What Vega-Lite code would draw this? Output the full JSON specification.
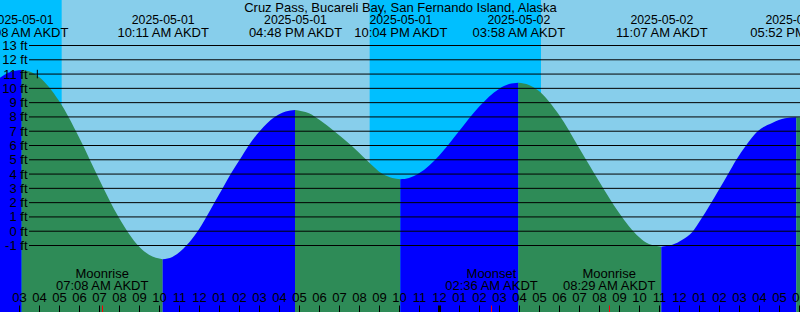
{
  "$schema": "https://vega.github.io/schema/vega-lite/v6.json",
  "width": 800,
  "height": 312,
  "padding": 0,
  "autosize": "none",
  "background": "#87CEEB",
  "config": {
    "view": {"stroke": null},
    "font": "Liberation Sans",
    "axis": {
      "labelFont": "Liberation Sans",
      "labelFontSize": 13,
      "labelColor": "#000000",
      "titleFont": "Liberation Sans",
      "titleColor": "#000000",
      "domain": false,
      "grid": false,
      "labelOverlap": false,
      "labelFlush": false,
      "labelBound": false
    }
  },
  "datasets": {
    "night": [
      {"start": -60, "end": 308},
      {"start": 1232, "end": 1746}
    ],
    "tide": [
      {"m": 110, "h": 10.53, "seg": "A", "dir": "rise"},
      {"m": 150, "h": 11.11, "seg": "A", "dir": "rise"},
      {"m": 188, "h": 11.29, "seg": "A", "dir": "rise"},
      {"m": 188, "h": 11.29, "seg": "B", "dir": "fall"},
      {"m": 210, "h": 11.2, "seg": "B", "dir": "fall"},
      {"m": 240, "h": 10.8, "seg": "B", "dir": "fall"},
      {"m": 300, "h": 9.13, "seg": "B", "dir": "fall"},
      {"m": 360, "h": 6.58, "seg": "B", "dir": "fall"},
      {"m": 420, "h": 3.66, "seg": "B", "dir": "fall"},
      {"m": 480, "h": 0.94, "seg": "B", "dir": "fall"},
      {"m": 540, "h": -1.07, "seg": "B", "dir": "fall"},
      {"m": 570, "h": -1.65, "seg": "B", "dir": "fall"},
      {"m": 611, "h": -1.96, "seg": "B", "dir": "fall"},
      {"m": 611, "h": -1.96, "seg": "C", "dir": "rise"},
      {"m": 640, "h": -1.8, "seg": "C", "dir": "rise"},
      {"m": 682, "h": -1.0, "seg": "C", "dir": "rise"},
      {"m": 716, "h": 0.0, "seg": "C", "dir": "rise"},
      {"m": 742, "h": 1.0, "seg": "C", "dir": "rise"},
      {"m": 766, "h": 2.0, "seg": "C", "dir": "rise"},
      {"m": 791, "h": 3.0, "seg": "C", "dir": "rise"},
      {"m": 815, "h": 4.0, "seg": "C", "dir": "rise"},
      {"m": 842, "h": 5.0, "seg": "C", "dir": "rise"},
      {"m": 869, "h": 6.0, "seg": "C", "dir": "rise"},
      {"m": 902, "h": 7.0, "seg": "C", "dir": "rise"},
      {"m": 947, "h": 8.0, "seg": "C", "dir": "rise"},
      {"m": 980, "h": 8.38, "seg": "C", "dir": "rise"},
      {"m": 1008, "h": 8.49, "seg": "C", "dir": "rise"},
      {"m": 1008, "h": 8.49, "seg": "D", "dir": "fall"},
      {"m": 1050, "h": 8.25, "seg": "D", "dir": "fall"},
      {"m": 1081, "h": 7.8, "seg": "D", "dir": "fall"},
      {"m": 1126, "h": 7.0, "seg": "D", "dir": "fall"},
      {"m": 1177, "h": 6.0, "seg": "D", "dir": "fall"},
      {"m": 1222, "h": 5.0, "seg": "D", "dir": "fall"},
      {"m": 1271, "h": 4.0, "seg": "D", "dir": "fall"},
      {"m": 1300, "h": 3.73, "seg": "D", "dir": "fall"},
      {"m": 1324, "h": 3.64, "seg": "D", "dir": "fall"},
      {"m": 1324, "h": 3.64, "seg": "E", "dir": "rise"},
      {"m": 1350, "h": 3.73, "seg": "E", "dir": "rise"},
      {"m": 1380, "h": 4.05, "seg": "E", "dir": "rise"},
      {"m": 1440, "h": 5.28, "seg": "E", "dir": "rise"},
      {"m": 1500, "h": 6.99, "seg": "E", "dir": "rise"},
      {"m": 1560, "h": 8.71, "seg": "E", "dir": "rise"},
      {"m": 1620, "h": 9.96, "seg": "E", "dir": "rise"},
      {"m": 1650, "h": 10.3, "seg": "E", "dir": "rise"},
      {"m": 1678, "h": 10.4, "seg": "E", "dir": "rise"},
      {"m": 1678, "h": 10.4, "seg": "F", "dir": "fall"},
      {"m": 1710, "h": 10.24, "seg": "F", "dir": "fall"},
      {"m": 1740, "h": 9.82, "seg": "F", "dir": "fall"},
      {"m": 1800, "h": 8.15, "seg": "F", "dir": "fall"},
      {"m": 1860, "h": 5.85, "seg": "F", "dir": "fall"},
      {"m": 1920, "h": 3.5, "seg": "F", "dir": "fall"},
      {"m": 1980, "h": 1.3, "seg": "F", "dir": "fall"},
      {"m": 2040, "h": -0.4, "seg": "F", "dir": "fall"},
      {"m": 2070, "h": -0.9, "seg": "F", "dir": "fall"},
      {"m": 2107, "h": -1.08, "seg": "F", "dir": "fall"},
      {"m": 2107, "h": -1.08, "seg": "G", "dir": "rise"},
      {"m": 2140, "h": -0.95, "seg": "G", "dir": "rise"},
      {"m": 2170, "h": -0.6, "seg": "G", "dir": "rise"},
      {"m": 2200, "h": -0.05, "seg": "G", "dir": "rise"},
      {"m": 2225, "h": 0.8, "seg": "G", "dir": "rise"},
      {"m": 2253, "h": 1.85, "seg": "G", "dir": "rise"},
      {"m": 2281, "h": 2.95, "seg": "G", "dir": "rise"},
      {"m": 2306, "h": 3.95, "seg": "G", "dir": "rise"},
      {"m": 2332, "h": 5.0, "seg": "G", "dir": "rise"},
      {"m": 2361, "h": 6.0, "seg": "G", "dir": "rise"},
      {"m": 2396, "h": 7.0, "seg": "G", "dir": "rise"},
      {"m": 2441, "h": 7.6, "seg": "G", "dir": "rise"},
      {"m": 2478, "h": 7.9, "seg": "G", "dir": "rise"},
      {"m": 2512, "h": 7.98, "seg": "G", "dir": "rise"},
      {"m": 2512, "h": 7.98, "seg": "H", "dir": "fall"},
      {"m": 2530, "h": 7.95, "seg": "H", "dir": "fall"}
    ],
    "levels": [
      {"level": -1}, {"level": 0}, {"level": 1}, {"level": 2}, {"level": 3},
      {"level": 4}, {"level": 5}, {"level": 6}, {"level": 7}, {"level": 8},
      {"level": 9}, {"level": 10}, {"level": 11}, {"level": 12}, {"level": 13}
    ],
    "marker": [
      {"m": 235, "lo": 10.7, "hi": 11.3}
    ]
  },
  "resolve": {"axis": {"x": "independent", "y": "independent"}},
  "layer": [
    {
      "data": {"name": "night"},
      "mark": {"type": "rect", "color": "#00BFFF"},
      "encoding": {
        "x": {
          "field": "start", "type": "quantitative",
          "scale": {"domain": [123, 2523], "nice": false, "zero": false},
          "axis": {
            "orient": "top",
            "offset": -23.3,
            "zindex": 1,
            "ticks": false,
            "labelPadding": 0,
            "labelBaseline": "alphabetic",
            "labelFontSize": 12.3,
            "values": [188, 611, 1008, 1324, 1678, 2107, 2512],
            "labelExpr": "timeFormat(datetime(2025, 4, 1, 0, datum.value), '%Y-%m-%d')",
            "title": "Cruz Pass, Bucareli Bay, San Fernando Island, Alaska",
            "titleX": 400,
            "titleY": -11.6,
            "titleAlign": "center",
            "titleBaseline": "alphabetic",
            "titleFontSize": 13,
            "titleFontWeight": "normal"
          }
        },
        "x2": {"field": "end"}
      }
    },
    {
      "data": {"name": "tide"},
      "mark": {"type": "area", "interpolate": "monotone"},
      "encoding": {
        "x": {
          "field": "m", "type": "quantitative",
          "scale": {"domain": [123, 2523], "nice": false, "zero": false},
          "axis": {
            "orient": "top",
            "offset": -312,
            "zindex": 1,
            "ticks": true,
            "tickSize": 7,
            "tickColor": "#000000",
            "tickWidth": {"condition": {"test": "datum.value % 1440 === 0", "value": 3}, "value": 1},
            "values": [120, 180, 240, 300, 360, 420, 480, 540, 600, 660, 720, 780, 840, 900, 960, 1020, 1080, 1140, 1200, 1260, 1320, 1380, 1440, 1500, 1560, 1620, 1680, 1740, 1800, 1860, 1920, 1980, 2040, 2100, 2160, 2220, 2280, 2340, 2400, 2460, 2520],
            "labelPadding": 3.3,
            "labelBaseline": "alphabetic",
            "labelExpr": "timeFormat(datetime(2025, 4, 1, 0, datum.value), '%I')",
            "title": null
          }
        },
        "y": {
          "field": "h", "type": "quantitative",
          "scale": {"domain": [-5.655, 16.185], "nice": false, "zero": false},
          "axis": null
        },
        "y2": {"datum": -5.655},
        "color": {
          "field": "dir", "type": "nominal",
          "scale": {"domain": ["rise", "fall"], "range": ["#0000FF", "#2E8B57"]},
          "legend": null
        },
        "detail": {"field": "seg"}
      }
    },
    {
      "data": {"name": "levels"},
      "mark": {"type": "rule", "color": "#000000", "strokeWidth": 1},
      "encoding": {
        "x": {
          "datum": 210, "type": "quantitative",
          "scale": {"domain": [123, 2523], "nice": false, "zero": false},
          "axis": {
            "orient": "top",
            "offset": -36,
            "zindex": 1,
            "ticks": false,
            "labelPadding": 0,
            "labelBaseline": "alphabetic",
            "values": [188, 611, 1008, 1324, 1678, 2107, 2512],
            "labelExpr": "timeFormat(datetime(2025, 4, 1, 0, datum.value), '%I:%M %p') + ' AKDT'",
            "title": null
          }
        },
        "x2": {"datum": 2600},
        "y": {
          "field": "level", "type": "quantitative",
          "scale": {"domain": [-5.655, 16.185], "nice": false, "zero": false},
          "axis": {
            "orient": "left",
            "offset": -28,
            "zindex": 1,
            "ticks": false,
            "labelPadding": 1,
            "labelBaseline": "middle",
            "values": [-1, 0, 1, 2, 3, 4, 5, 6, 7, 8, 9, 10, 11, 12, 13],
            "labelExpr": "datum.value + ' ft'",
            "title": null
          }
        }
      }
    },
    {
      "data": {"name": "marker"},
      "mark": {"type": "rule", "color": "#000000", "strokeWidth": 1},
      "encoding": {
        "x": {
          "field": "m", "type": "quantitative",
          "scale": {"domain": [123, 2523], "nice": false, "zero": false},
          "axis": {
            "orient": "top",
            "offset": -312,
            "zindex": 1,
            "ticks": true,
            "tickSize": 7,
            "tickColor": "#FF0000",
            "tickWidth": 1,
            "labelPadding": 27.3,
            "labelBaseline": "alphabetic",
            "labelLineHeight": 12.3,
            "values": [114, 428, 1596, 1949],
            "labelExpr": "[datum.value % 1440 < 300 ? 'Moonset' : 'Moonrise', timeFormat(datetime(2025, 4, 1, 0, datum.value), '%I:%M %p') + ' AKDT']",
            "title": null
          }
        },
        "y": {
          "field": "lo", "type": "quantitative",
          "scale": {"domain": [-5.655, 16.185], "nice": false, "zero": false},
          "axis": null
        },
        "y2": {"field": "hi"}
      }
    }
  ]
}
